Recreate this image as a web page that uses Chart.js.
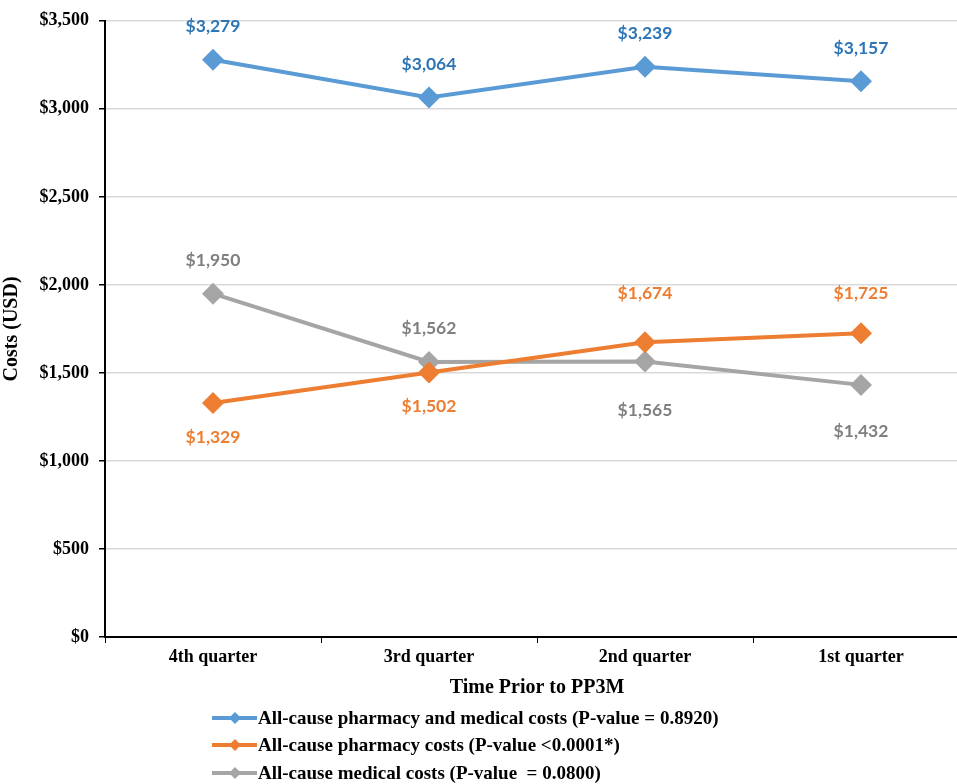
<!DOCTYPE html>
<html>
<head>
<meta charset="utf-8">
<script src="https://cdn.jsdelivr.net/npm/chart.js@4.4.0/dist/chart.umd.min.js"></script>
<style>
  html, body { margin: 0; padding: 0; background: #fff; overflow: hidden; }
  #wrap { width: 980px; height: 784px; }
</style>
</head>
<body>
<div id="wrap"><canvas id="myChart" width="980" height="784"></canvas></div>
<script>
// chart data
var quarters = ["4th quarter", "3rd quarter", "2nd quarter", "1st quarter"];
var totalCosts = [3279, 3064, 3239, 3157];
var pharmacyCosts = [1329, 1502, 1674, 1725];
var medicalCosts = [1950, 1562, 1565, 1432];
var seriesNames = [
    "All-cause pharmacy and medical costs (P-value = 0.8920)",
    "All-cause pharmacy costs (P-value <0.0001*)",
    "All-cause medical costs (P-value  = 0.0800)"
];

// where the value labels sit (pixels from the point, center of text)
var labelShift = [
    [-33, -33, -33, -33],
    [34, 34, -49, -40],
    [-33, -34, 49, 46]
];
var labelColors = ["#2E75B6", "#ED7D31", "#7F7F7F"];
var lineColors = ["#5B9BD5", "#ED7D31", "#A5A5A5"];

var serif = "'Liberation Serif', 'Times New Roman', serif";

function money(v){
    return "$" + v.toLocaleString("en-US");
}

// draws the value labels next to each point
const valueLabels = {
    id: 'valueLabels',
    afterDatasetsDraw(chart){
        const ctx = chart.ctx;
        ctx.save();
        ctx.font = "bold 17.5px Lato, 'Open Sans', sans-serif";
        ctx.textAlign = "center";
        ctx.textBaseline = "middle";
        chart.data.datasets.forEach(function(ds, d){
            const meta = chart.getDatasetMeta(d);
            meta.data.forEach(function(pt, i){
                ctx.fillStyle = labelColors[d];
                ctx.fillText(money(ds.data[i]), pt.x, pt.y + labelShift[d][i]);
            });
        });
        ctx.restore();
    }
};

// legend stacked under the axis, left aligned
const stackedLegend = {
    id: 'stackedLegend',
    afterDraw(chart){
        const ctx = chart.ctx;
        ctx.save();
        var x0 = 212, rowY = [718, 745, 773];
        chart.data.datasets.forEach(function(ds, d){
            var y = rowY[d];
            ctx.strokeStyle = lineColors[d];
            ctx.lineWidth = 4;
            ctx.beginPath();
            ctx.moveTo(x0, y);
            ctx.lineTo(x0 + 45, y);
            ctx.stroke();
            ctx.fillStyle = lineColors[d];
            ctx.beginPath();
            ctx.moveTo(x0 + 23, y - 6);
            ctx.lineTo(x0 + 29, y);
            ctx.lineTo(x0 + 23, y + 6);
            ctx.lineTo(x0 + 17, y);
            ctx.closePath();
            ctx.fill();
            ctx.fillStyle = "#000";
            ctx.font = "bold 19px " + serif;
            ctx.textAlign = "left";
            ctx.textBaseline = "middle";
            ctx.fillText(ds.label, x0 + 46, y + 1);
        });
        ctx.restore();
    }
};

function makeSet(label, data, color){
    return {
        label: label,
        data: data,
        borderColor: color,
        backgroundColor: color,
        borderWidth: 4,
        pointStyle: 'rectRot',
        pointRadius: 11,
        pointHoverRadius: 11,
        pointBorderWidth: 0,
        tension: 0
    };
}

const config = {
    type: 'line',
    data: {
        labels: quarters,
        datasets: [
            makeSet(seriesNames[0], totalCosts, lineColors[0]),
            makeSet(seriesNames[1], pharmacyCosts, lineColors[1]),
            makeSet(seriesNames[2], medicalCosts, lineColors[2])
        ]
    },
    options: {
        responsive: false,
        animation: false,
        layout: { padding: { top: 20, right: 2, bottom: 84, left: 0 } },
        plugins: {
            legend: { display: false },
            tooltip: { enabled: false }
        },
        scales: {
            x: {
                offset: true,
                afterFit: function(s){ s.height = 63; },
                grid: { display: true, drawOnChartArea: false, offset: true, tickLength: 6, tickColor: '#000' },
                border: { color: '#000', width: 2 },
                ticks: { color: '#000', font: { family: serif, size: 18, weight: 'bold' }, padding: 4, maxRotation: 0 },
                title: { display: true, text: 'Time Prior to PP3M', color: '#000',
                         font: { family: serif, size: 20, weight: 'bold' }, padding: { top: 0, bottom: 0 } }
            },
            y: {
                min: 0,
                max: 3500,
                afterFit: function(s){ s.width = 105; },
                grid: { color: '#D9D9D9', lineWidth: 1.5, tickLength: 6, tickColor: '#000' },
                border: { color: '#000', width: 2 },
                ticks: { stepSize: 500, color: '#000', padding: 10,
                         font: { family: serif, size: 18, weight: 'bold' },
                         callback: function(v){ return money(v); } },
                title: { display: true, text: 'Costs (USD)', color: '#000',
                         font: { family: serif, size: 20, weight: 'bold' }, padding: { top: 0, bottom: 0 } }
            }
        }
    },
    plugins: [valueLabels, stackedLegend]
};

const ctx = document.getElementById('myChart').getContext('2d');
const myChart = new Chart(ctx, config);
</script>
</body>
</html>
